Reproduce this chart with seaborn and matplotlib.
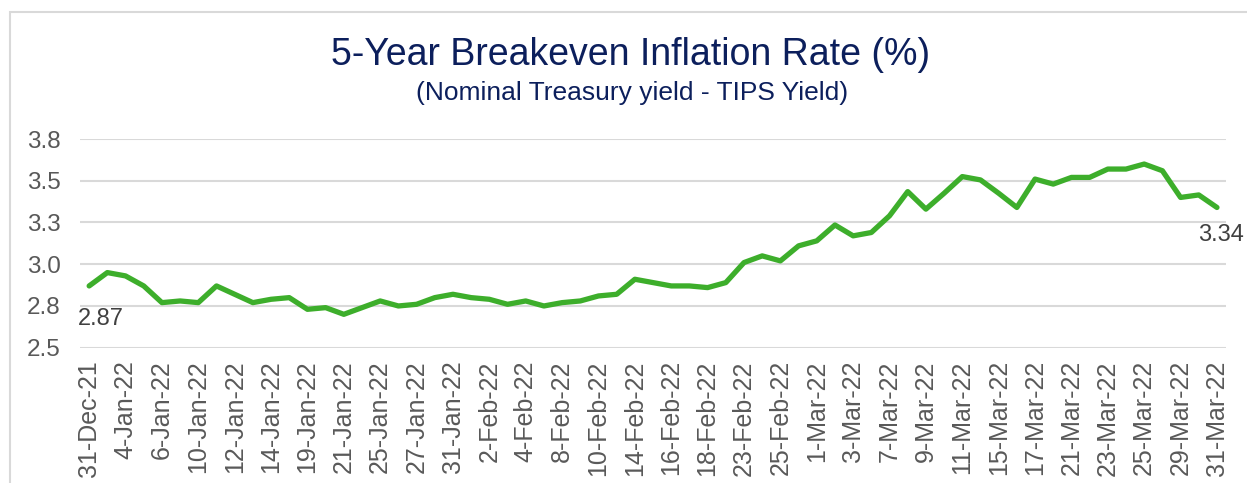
import pandas as pd
import matplotlib.pyplot as plt
import seaborn as sns
from matplotlib.patches import Rectangle

# fechas de negociación (31-Dec-21 a 31-Mar-22)
fechas = ['31-Dec-21',
          '3-Jan-22', '4-Jan-22', '5-Jan-22', '6-Jan-22', '7-Jan-22', '10-Jan-22', '11-Jan-22',
          '12-Jan-22', '13-Jan-22', '14-Jan-22', '18-Jan-22', '19-Jan-22', '20-Jan-22', '21-Jan-22',
          '24-Jan-22', '25-Jan-22', '26-Jan-22', '27-Jan-22', '28-Jan-22', '31-Jan-22',
          '1-Feb-22', '2-Feb-22', '3-Feb-22', '4-Feb-22', '7-Feb-22', '8-Feb-22', '9-Feb-22',
          '10-Feb-22', '11-Feb-22', '14-Feb-22', '15-Feb-22', '16-Feb-22', '17-Feb-22', '18-Feb-22',
          '22-Feb-22', '23-Feb-22', '24-Feb-22', '25-Feb-22', '28-Feb-22',
          '1-Mar-22', '2-Mar-22', '3-Mar-22', '4-Mar-22', '7-Mar-22', '8-Mar-22', '9-Mar-22',
          '10-Mar-22', '11-Mar-22', '14-Mar-22', '15-Mar-22', '16-Mar-22', '17-Mar-22', '18-Mar-22',
          '21-Mar-22', '22-Mar-22', '23-Mar-22', '24-Mar-22', '25-Mar-22', '28-Mar-22', '29-Mar-22',
          '30-Mar-22', '31-Mar-22']

breakeven = [2.87,
             2.95, 2.93, 2.87, 2.77, 2.78, 2.77, 2.87,
             2.82, 2.77, 2.79, 2.80, 2.73, 2.74, 2.70,
             2.74, 2.78, 2.75, 2.76, 2.80, 2.82,
             2.80, 2.79, 2.76, 2.78, 2.75, 2.77, 2.78,
             2.81, 2.82, 2.91, 2.89, 2.87, 2.87, 2.86,
             2.89, 3.01, 3.05, 3.02, 3.11,
             3.14, 3.235, 3.17, 3.19, 3.29, 3.435, 3.33,
             3.425, 3.525, 3.505, 3.425, 3.34, 3.51, 3.48,
             3.52, 3.52, 3.57, 3.57, 3.60, 3.56, 3.40,
             3.415, 3.34]

y_ticks = [2.5, 2.75, 3.0, 3.25, 3.5, 3.75]
y_labels = ['2.5', '2.8', '3.0', '3.3', '3.5', '3.8']

df = pd.DataFrame({'fecha': fechas, 'valor': breakeven})
df['pos'] = range(len(df))

sns.set_style('white')
plt.rcParams['font.family'] = ['Liberation Sans', 'DejaVu Sans']

fig = plt.figure(figsize=(12.47, 4.83), dpi=100)
ax = fig.add_axes([0.0642, 0.2801, 0.9190, 0.4321])

sns.lineplot(data=df, x='pos', y='valor', color='#3dae2b', linewidth=3.8, ax=ax)

ax.set_xlim(-0.5, len(df) - 0.5)
ax.set_ylim(2.5, 3.75)
ax.set_yticks(y_ticks)
ax.set_yticklabels(y_labels)
ax.set_xticks(df['pos'][::2])
ax.set_xticklabels(df['fecha'][::2], rotation=90)
ax.tick_params(axis='y', colors='#595959', labelsize=17.5, length=0, pad=14)
ax.tick_params(axis='x', colors='#595959', labelsize=18, length=0, pad=9)
ax.set_xlabel('')
ax.set_ylabel('')
ax.grid(axis='y', color='#d9d9d9', linewidth=1.5)
sns.despine(ax=ax, left=True, bottom=True)

# etiquetas de primer y último valor
ax.annotate(f'{breakeven[0]:.2f}', (0, breakeven[0]), xytext=(8.5, -16), textcoords='offset points',
            ha='center', va='top', fontsize=17, color='#404040')
ax.annotate(f'{breakeven[-1]:.2f}', (len(df) - 1, breakeven[-1]), xytext=(3, -12),
            textcoords='offset points', ha='center', va='top', fontsize=17, color='#404040')

fig.text(0.5055, 0.886, '5-Year Breakeven Inflation Rate (%)', ha='center', va='center',
         fontsize=27, color='#0c1f5c')
fig.text(0.507, 0.808, '(Nominal Treasury yield - TIPS Yield)', ha='center', va='center',
         fontsize=19, color='#0c1f5c')

# marco del gráfico
fig.patches.append(Rectangle((10 / 1247, -0.05), 1.1, 1 - 12 / 483 + 0.05, transform=fig.transFigure,
                             fill=False, edgecolor='#d9d9d9', linewidth=1.5))

plt.savefig('out.png', dpi=100)
